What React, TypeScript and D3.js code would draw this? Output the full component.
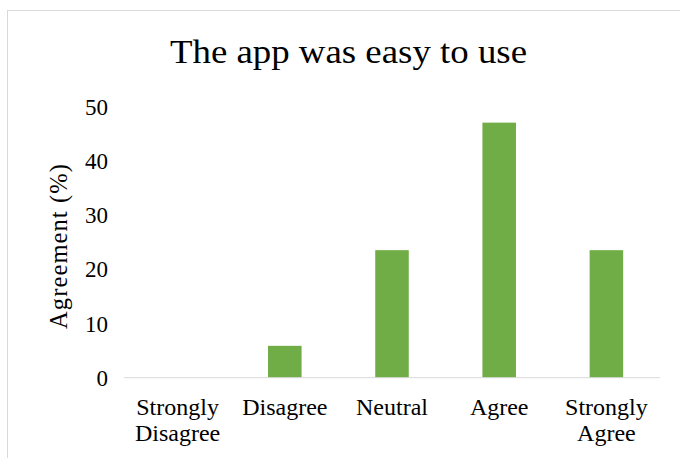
import React from "react";
import * as d3 from "d3";

const categories = ["Strongly Disagree", "Disagree", "Neutral", "Agree", "Strongly Agree"];
const categoryLines = [["Strongly", "Disagree"], ["Disagree"], ["Neutral"], ["Agree"], ["Strongly", "Agree"]];
const values = [0, 5.88, 23.53, 47.06, 23.53];
const yTicks = [0, 10, 20, 30, 40, 50];
const title = "The app was easy to use";
const yTitle = "Agreement (%)";

const W = 680;
const H = 458;
const margin = { left: 124, right: 20, top: 106.7, bottom: 80.3 };

export default function App() {
  const x = d3
    .scaleBand<string>()
    .domain(categories)
    .range([margin.left, W - margin.right])
    .paddingInner(0.687)
    .paddingOuter(0.3435);
  const y = d3.scaleLinear().domain([0, 50]).range([H - margin.bottom, margin.top]);
  const font = "'Liberation Serif', 'Times New Roman', serif";
  return (
    <svg
      width={W}
      height={H}
      style={{ position: "absolute", left: 0, top: 0, background: "#fff" }}
      fontFamily={font}
    >
      <rect x={7.5} y={10.5} width={W + 20} height={H + 20} fill="#fff" stroke="#D9D9D9" strokeWidth={1} />
      <text
        x={348.5}
        y={62.5}
        textAnchor="middle"
        fontSize={33}
        fill="#000"
        textLength={357}
        lengthAdjust="spacingAndGlyphs"
      >
        {title}
      </text>
      {yTicks.map((t) => (
        <text key={t} x={108} y={y(t)} dy="0.35em" textAnchor="end" fontSize={23} fill="#000">
          {t}
        </text>
      ))}
      <text
        transform={`translate(67,${246.5}) rotate(-90)`}
        textAnchor="middle"
        fontSize={24.5}
        fill="#000"
        textLength={165}
        lengthAdjust="spacing"
      >
        {yTitle}
      </text>
      {categories.map((c, i) => (
        <rect
          key={c}
          x={x(c)!}
          y={y(values[i])}
          width={x.bandwidth()}
          height={y(0) - y(values[i])}
          fill="#70AD47"
        />
      ))}
      <line x1={margin.left} x2={W - margin.right} y1={y(0)} y2={y(0)} stroke="#D9D9D9" strokeWidth={1} />
      {categories.map((c, i) => (
        <text key={c} x={x(c)! + x.bandwidth() / 2} y={415} textAnchor="middle" fontSize={24} fill="#000">
          {categoryLines[i].map((l, j) => (
            <tspan key={j} x={x(c)! + x.bandwidth() / 2} dy={j === 0 ? 0 : 26}>
              {l}
            </tspan>
          ))}
        </text>
      ))}
    </svg>
  );
}
